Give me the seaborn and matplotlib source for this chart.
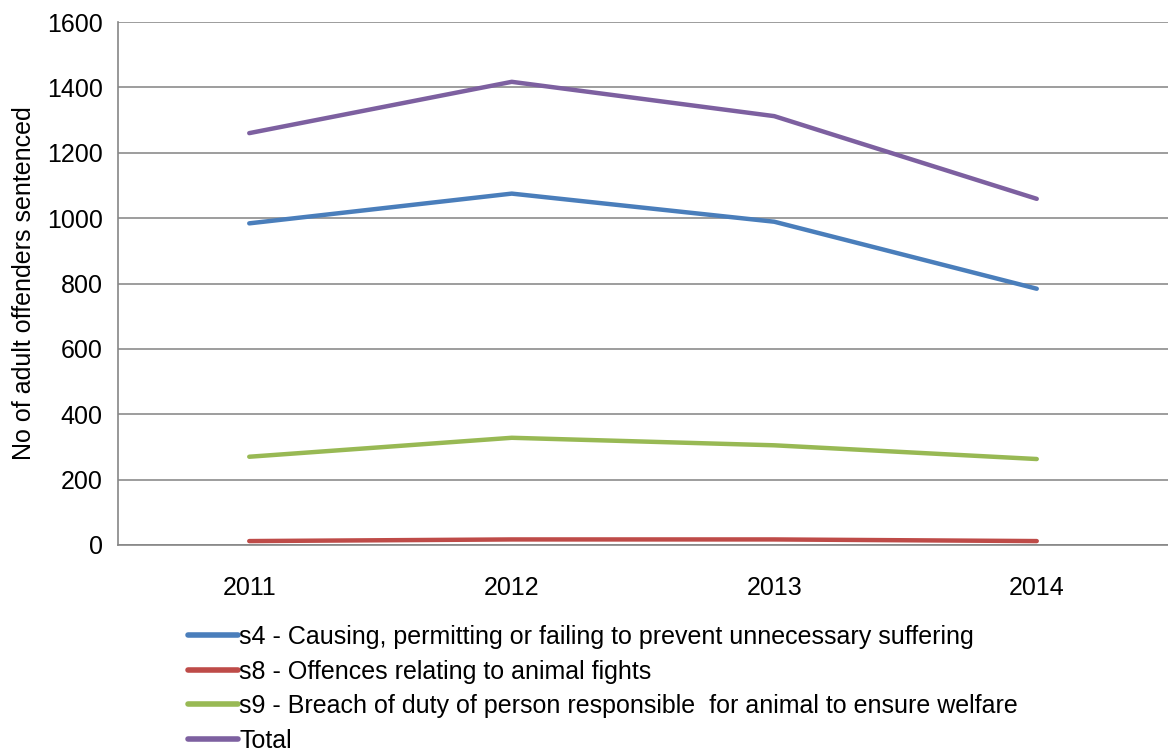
import numpy as np
import pandas as pd
import matplotlib.pyplot as plt
import seaborn as sns

years = ["2011", "2012", "2013", "2014"]
s4 = [984, 1075, 989, 784]
s8 = [12, 17, 17, 12]
s9 = [270, 328, 305, 263]
total = [1260, 1417, 1312, 1059]

series_names = [
    "s4 - Causing, permitting or failing to prevent unnecessary suffering",
    "s8 - Offences relating to animal fights",
    "s9 - Breach of duty of person responsible  for animal to ensure welfare",
    "Total",
]
colors = ["#4A7EBB", "#BE4B48", "#98B954", "#7D60A0"]


def main():
    sns.set_style("white")
    plt.rcParams["font.family"] = ["Liberation Sans", "DejaVu Sans"]

    rows = []
    for name, vals in zip(series_names, [s4, s8, s9, total]):
        for i, v in enumerate(vals):
            rows.append({"pos": i, "value": v, "series": name})
    df = pd.DataFrame(rows)

    fig = plt.figure(figsize=(11.68, 7.56), dpi=100)
    ax = fig.add_axes([118 / 1168, 1 - 545 / 756, 1050 / 1168, 523 / 756])

    sns.lineplot(data=df, x="pos", y="value", hue="series", hue_order=series_names,
                 palette=colors, linewidth=3.2, ax=ax, legend=True)

    ax.set_xlim(-0.5, 3.5)
    ax.set_ylim(0, 1600)
    ax.set_yticks(np.arange(0, 1601, 200))
    ax.set_xticks(range(4))
    ax.set_xticklabels(years)
    ax.set_xticks([0.5, 1.5, 2.5], minor=True)
    ax.tick_params(axis="x", which="major", length=0, pad=22, labelsize=18, labelcolor="black")
    ax.tick_params(axis="x", which="minor", length=7, width=1, color="#868686", direction="out")
    ax.tick_params(axis="y", length=5, width=1, color="#868686", direction="out",
                   labelsize=18, pad=6, labelcolor="black")
    ax.grid(axis="y", color="#8C8C8C", linewidth=1.2)
    ax.set_axisbelow(True)
    for side in ["top", "right"]:
        ax.spines[side].set_visible(False)
    for side in ["left", "bottom"]:
        ax.spines[side].set_color("#868686")
        ax.spines[side].set_linewidth(1.2)

    ax.set_xlabel("")
    ax.set_ylabel("No of adult offenders sentenced", fontsize=18, labelpad=8, color="black")

    leg = ax.legend(loc="upper left", bbox_to_anchor=(178 / 1168, 1 - 615 / 756),
                    bbox_transform=fig.transFigure, frameon=False, fontsize=18,
                    handlelength=2.0, handletextpad=0.05, labelspacing=0.42, borderaxespad=0)
    for line in leg.get_lines():
        line.set_linewidth(4)
    for text in leg.get_texts():
        text.set_color("black")

    plt.savefig("out.png", dpi=100)


if __name__ == "__main__":
    main()
